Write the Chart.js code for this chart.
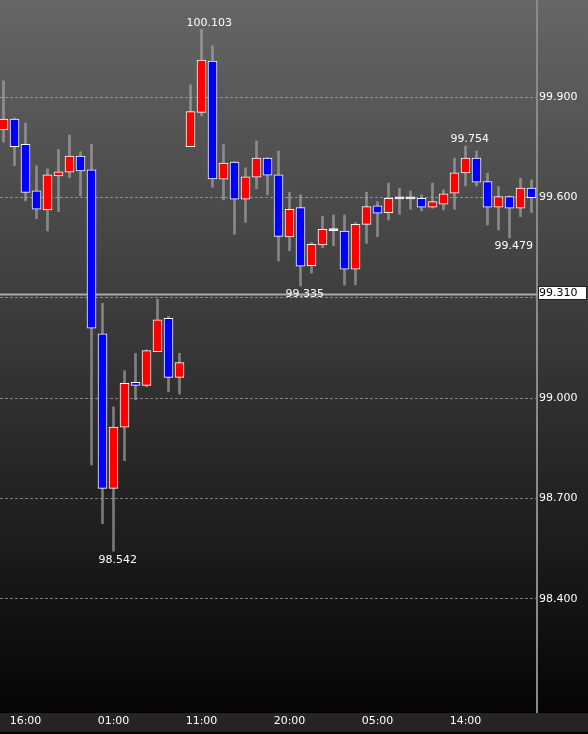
<!DOCTYPE html>
<html>
<head>
<meta charset="utf-8">
<script src="https://cdn.jsdelivr.net/npm/chart.js@4.4.1/dist/chart.umd.min.js"></script>
<style>
html, body { margin: 0; padding: 0; background: #000; }
canvas { display: block; }
</style>
</head>
<body>
<canvas id="chart" width="588" height="734"></canvas>
<script>
// candle data, one entry per bar (left to right)
var opens = [99.802, 99.835, 99.759, 99.620, 99.563, 99.665, 99.676, 99.724, 99.683, 99.192,
    98.730, 98.913, 99.047, 99.038, 99.139, 99.239, 99.062, 99.752, 99.855, 100.008,
    99.655, 99.706, 99.595, 99.661, 99.718, 99.668, 99.482, 99.570, 99.396, 99.458,
    99.501, 99.500, 99.386, 99.520, 99.575, 99.555, 99.596, 99.596, 99.598, 99.571,
    99.580, 99.613, 99.674, 99.718, 99.648, 99.571, 99.603, 99.568, 99.628];
var highs = [99.949, 99.838, 99.823, 99.695, 99.686, 99.744, 99.787, 99.737, 99.760, 99.284,
    98.974, 99.082, 99.134, 99.144, 99.296, 99.244, 99.134, 99.937, 100.103, 100.054,
    99.759, 99.708, 99.689, 99.769, 99.720, 99.739, 99.616, 99.608, 99.466, 99.544,
    99.548, 99.548, 99.525, 99.616, 99.588, 99.643, 99.628, 99.620, 99.608, 99.643,
    99.623, 99.718, 99.754, 99.739, 99.673, 99.633, 99.605, 99.658, 99.653];
var lows = [99.766, 99.695, 99.590, 99.537, 99.500, 99.558, 99.660, 99.605, 98.800, 98.624,
    98.542, 98.813, 98.995, 99.034, 99.139, 99.019, 99.012, 99.752, 99.844, 99.631,
    99.593, 99.490, 99.526, 99.626, 99.608, 99.410, 99.441, 99.335, 99.374, 99.450,
    99.456, 99.338, 99.339, 99.463, 99.483, 99.533, 99.550, 99.565, 99.560, 99.568,
    99.563, 99.565, 99.635, 99.635, 99.518, 99.503, 99.479, 99.543, 99.555];
var closes = [99.835, 99.752, 99.615, 99.565, 99.668, 99.677, 99.724, 99.680, 99.209, 98.730,
    98.913, 99.044, 99.038, 99.142, 99.234, 99.062, 99.106, 99.857, 100.011, 99.656,
    99.703, 99.595, 99.662, 99.718, 99.667, 99.484, 99.565, 99.395, 99.460, 99.505,
    99.501, 99.386, 99.520, 99.573, 99.553, 99.598, 99.596, 99.596, 99.571, 99.588,
    99.611, 99.674, 99.718, 99.646, 99.571, 99.603, 99.568, 99.628, 99.600];

// time axis labels and the bar they sit under
var xTickPos = [2, 10, 18, 26, 34, 42];
var xTickLabels = ['16:00', '01:00', '11:00', '20:00', '05:00', '14:00'];

// price axis
var yTicks = [98.4, 98.7, 99.0, 99.3, 99.6, 99.9];
var yTickLabels = ['98.400', '98.700', '99.000', '', '99.600', '99.900'];

// high / low marks written on the chart
var markIndex = [18, 10, 27, 42, 46];
var markSide = ['high', 'low', 'low', 'high', 'low'];

var lastPrice = 99.310;

var FONT = 'DejaVu Sans';

var bodies = [];
var wicks = [];
var bodyColors = [];
for (var i = 0; i < opens.length; i++) {
    bodies.push({ x: i, y: [opens[i], closes[i]] });
    wicks.push({ x: i, y: [lows[i], highs[i]] });
    if (closes[i] > opens[i]) bodyColors.push('#ff0000');
    else if (closes[i] < opens[i]) bodyColors.push('#0000ff');
    else bodyColors.push('#ffffff');
}

var bgPlugin = {
    id: 'bg',
    beforeDraw: function (chart) {
        var ctx = chart.ctx;
        var bottom = chart.chartArea.bottom;
        var g = ctx.createLinearGradient(0, 0, 0, bottom);
        g.addColorStop(0, '#666666');
        g.addColorStop(1, '#050505');
        ctx.save();
        ctx.fillStyle = g;
        ctx.fillRect(0, 0, chart.width, bottom);
        ctx.fillStyle = '#000';
        ctx.fillRect(0, bottom, chart.width, chart.height - bottom);
        ctx.fillStyle = '#262322';
        ctx.fillRect(0, bottom + 1, chart.width, 19);
        ctx.restore();
    }
};

var priceLinePlugin = {
    id: 'priceLine',
    beforeDatasetsDraw: function (chart) {
        var ctx = chart.ctx;
        var y = chart.scales.y.getPixelForValue(lastPrice);
        ctx.save();
        ctx.strokeStyle = '#aaaaaa';
        ctx.lineWidth = 2;
        ctx.beginPath();
        ctx.moveTo(chart.chartArea.left, y);
        ctx.lineTo(chart.chartArea.right, y);
        ctx.stroke();
        ctx.restore();
    },
    afterDraw: function (chart) {
        var ctx = chart.ctx;
        var y = chart.scales.y.getPixelForValue(lastPrice);
        var x = chart.chartArea.right + 1;
        ctx.save();
        ctx.fillStyle = '#ffffff';
        ctx.fillRect(x, y - 8.5, chart.width - x - 1, 14);
        ctx.strokeStyle = '#222';
        ctx.lineWidth = 1;
        ctx.strokeRect(x + 0.5, y - 8, chart.width - x - 2, 13);
        ctx.fillStyle = '#000';
        ctx.font = '11px ' + FONT;
        ctx.textBaseline = 'middle';
        ctx.textAlign = 'left';
        ctx.fillText(lastPrice.toFixed(3), x + 1, y - 1.5);
        ctx.restore();
    }
};

var marksPlugin = {
    id: 'marks',
    afterDatasetsDraw: function (chart) {
        var ctx = chart.ctx;
        var xs = chart.scales.x, ys = chart.scales.y;
        ctx.save();
        ctx.fillStyle = '#ffffff';
        ctx.font = '11px ' + FONT;
        ctx.textAlign = 'left';
        markIndex.forEach(function (idx, k) {
            var x = xs.getPixelForValue(idx) - 15;
            if (markSide[k] === 'high') {
                ctx.textBaseline = 'bottom';
                ctx.fillText(highs[idx].toFixed(3), x, ys.getPixelForValue(highs[idx]) - 1);
            } else {
                ctx.textBaseline = 'top';
                ctx.fillText(lows[idx].toFixed(3), x, ys.getPixelForValue(lows[idx]) + 3);
            }
        });
        ctx.restore();
    }
};

var ctx = document.getElementById('chart').getContext('2d');
var chart = new Chart(ctx, {
    type: 'bar',
    data: {
        datasets: [{
            label: 'body',
            data: bodies,
            backgroundColor: bodyColors,
            borderColor: '#ffffff',
            borderWidth: 1,
            borderSkipped: false,
            barThickness: 9,
            minBarLength: 2,
            grouped: false,
            order: 0
        }, {
            label: 'wick',
            data: wicks,
            backgroundColor: 'rgba(180,180,180,0.6)',
            borderWidth: 0,
            barThickness: 2,
            grouped: false,
            order: 1
        }]
    },
    options: {
        responsive: false,
        animation: false,
        devicePixelRatio: 1,
        layout: { padding: 0 },
        events: [],
        plugins: {
            legend: { display: false },
            tooltip: { enabled: false }
        },
        scales: {
            x: {
                type: 'linear',
                min: -3.5 / 11,
                max: 48.5,
                offset: false,
                grid: { display: false, drawTicks: false },
                border: { display: false },
                afterBuildTicks: function (scale) {
                    scale.ticks = xTickPos.map(function (v) { return { value: v }; });
                },
                afterFit: function (scale) {
                    scale.height = 22;
                    scale.paddingLeft = 0;
                    scale.paddingRight = 0;
                },
                ticks: {
                    autoSkip: false,
                    maxRotation: 0,
                    padding: 3,
                    color: '#ffffff',
                    font: { family: FONT, size: 11 },
                    callback: function (value, index) { return xTickLabels[index]; }
                }
            },
            y: {
                position: 'right',
                min: 98.061,
                max: 100.191,
                afterBuildTicks: function (scale) {
                    scale.ticks = yTicks.map(function (v) { return { value: v }; });
                },
                afterFit: function (scale) {
                    scale.width = 51;
                    scale.paddingTop = 0;
                    scale.paddingBottom = 0;
                },
                grid: {
                    color: 'rgba(200,200,200,0.55)',
                    lineWidth: 1,
                    drawTicks: false
                },
                border: { display: true, color: '#8a8a8a', width: 2, dash: [3, 2] },
                ticks: {
                    padding: 2,
                    color: '#ffffff',
                    font: { family: FONT, size: 11 },
                    callback: function (value, index) { return yTickLabels[index]; }
                }
            }
        }
    },
    plugins: [bgPlugin, priceLinePlugin, marksPlugin]
});
</script>
</body>
</html>
